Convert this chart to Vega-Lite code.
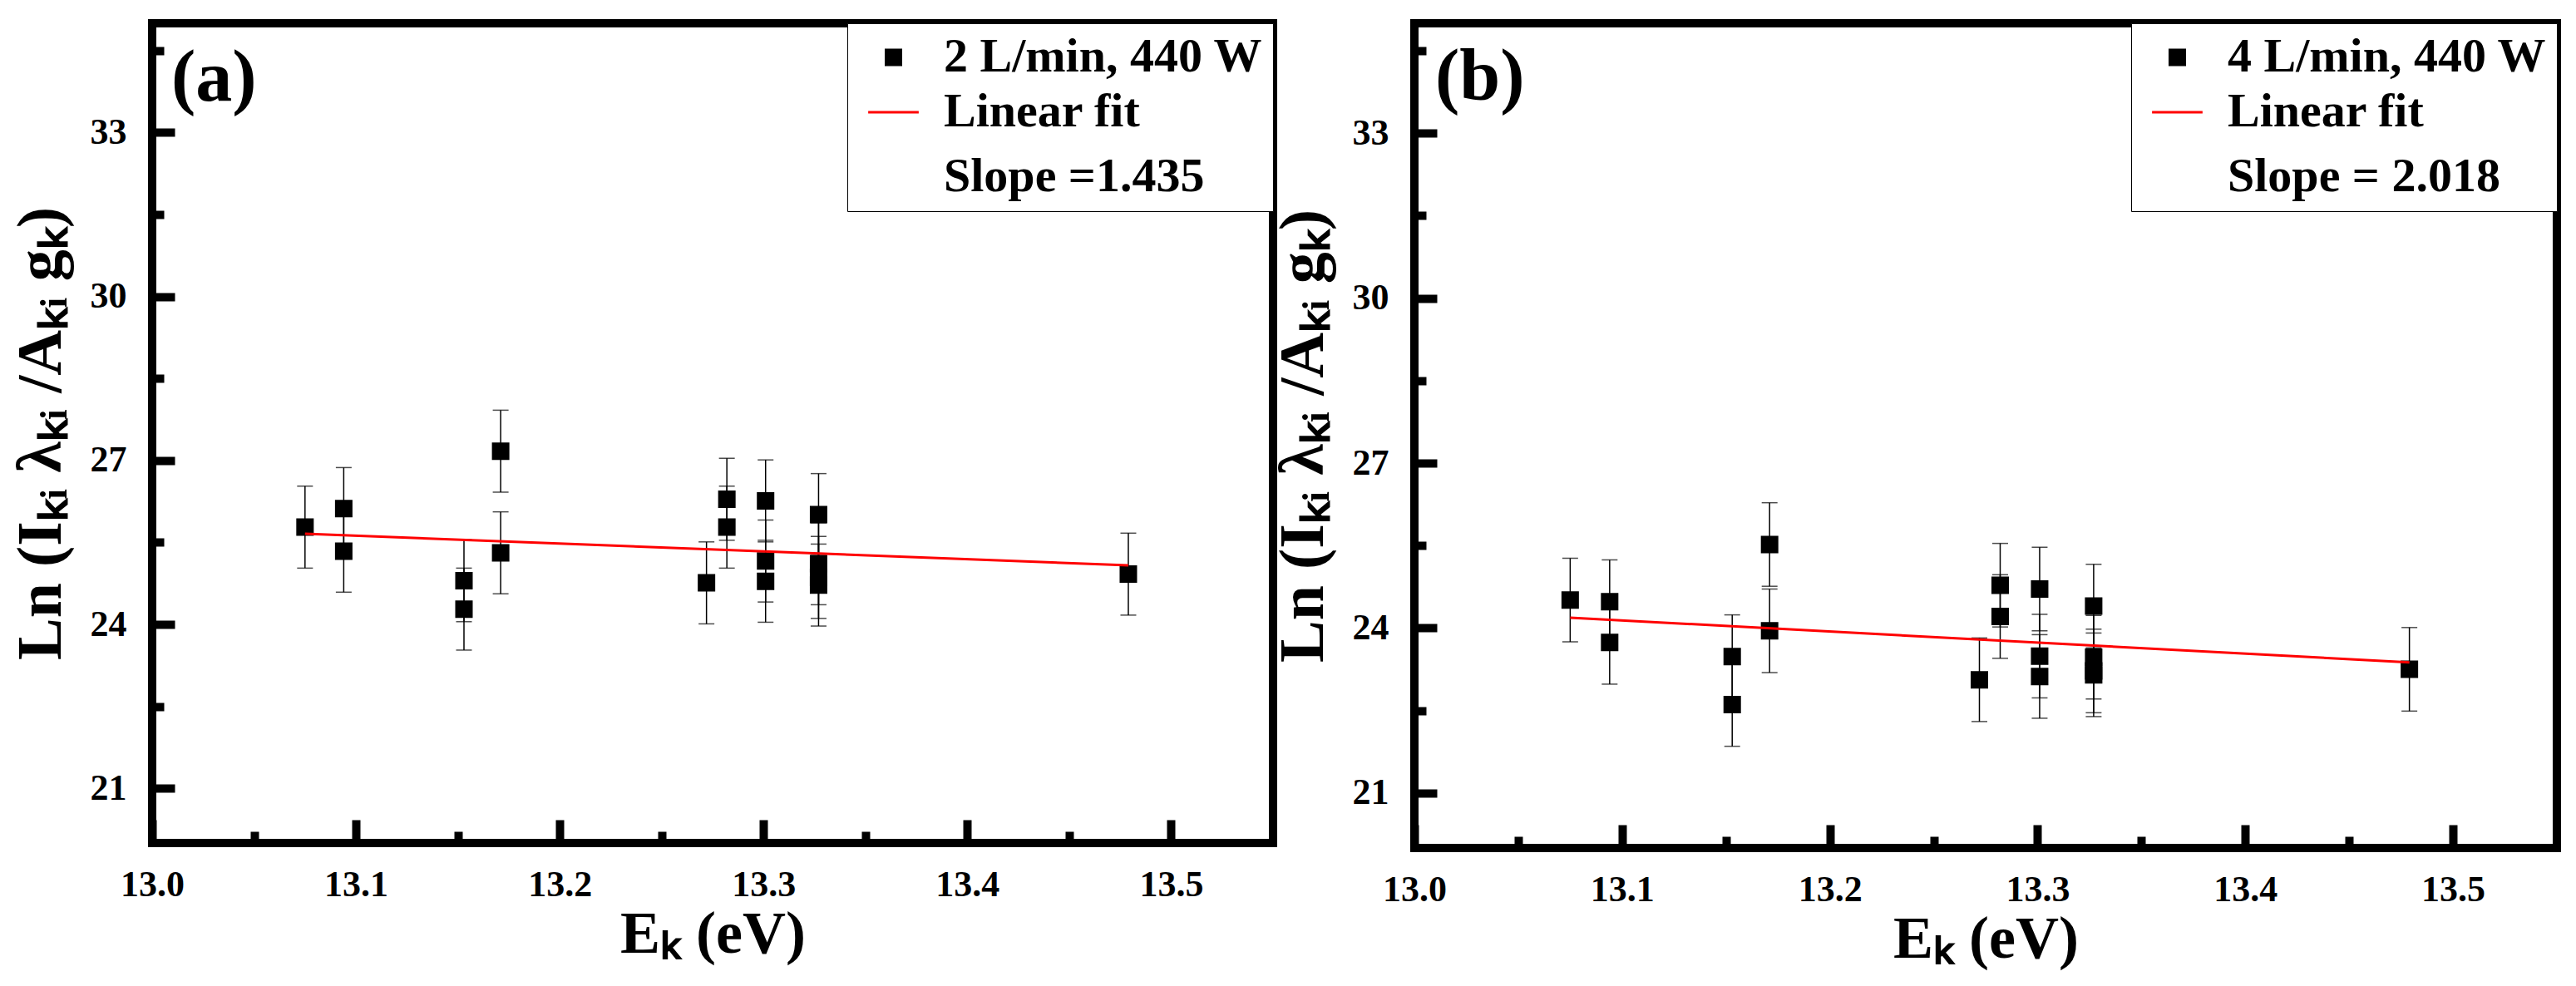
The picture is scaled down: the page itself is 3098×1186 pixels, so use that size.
{
  "$schema": "https://vega.github.io/schema/vega-lite/v6.json",
  "background": "white",
  "padding": {"left": 6, "top": 22, "right": 0, "bottom": 0},
  "spacing": -13,
  "datasets": {
    "pointsA": [
      {"E": 13.075, "ln": 25.78, "err": 0.75, "series": "2 L/min, 440 W"},
      {"E": 13.094, "ln": 26.12, "err": 0.75, "series": "2 L/min, 440 W"},
      {"E": 13.094, "ln": 25.34, "err": 0.75, "series": "2 L/min, 440 W"},
      {"E": 13.153, "ln": 24.80, "err": 0.75, "series": "2 L/min, 440 W"},
      {"E": 13.153, "ln": 24.28, "err": 0.75, "series": "2 L/min, 440 W"},
      {"E": 13.171, "ln": 27.17, "err": 0.75, "series": "2 L/min, 440 W"},
      {"E": 13.171, "ln": 25.31, "err": 0.75, "series": "2 L/min, 440 W"},
      {"E": 13.272, "ln": 24.76, "err": 0.75, "series": "2 L/min, 440 W"},
      {"E": 13.282, "ln": 26.29, "err": 0.75, "series": "2 L/min, 440 W"},
      {"E": 13.282, "ln": 25.78, "err": 0.75, "series": "2 L/min, 440 W"},
      {"E": 13.301, "ln": 26.26, "err": 0.75, "series": "2 L/min, 440 W"},
      {"E": 13.301, "ln": 25.16, "err": 0.75, "series": "2 L/min, 440 W"},
      {"E": 13.301, "ln": 24.79, "err": 0.75, "series": "2 L/min, 440 W"},
      {"E": 13.327, "ln": 26.01, "err": 0.75, "series": "2 L/min, 440 W"},
      {"E": 13.327, "ln": 25.11, "err": 0.75, "series": "2 L/min, 440 W"},
      {"E": 13.327, "ln": 24.86, "err": 0.75, "series": "2 L/min, 440 W"},
      {"E": 13.327, "ln": 24.72, "err": 0.75, "series": "2 L/min, 440 W"},
      {"E": 13.479, "ln": 24.92, "err": 0.75, "series": "2 L/min, 440 W"}
    ],
    "fitA": [
      {"E": 13.075, "ln": 25.66},
      {"E": 13.479, "ln": 25.08}
    ],
    "pointsB": [
      {"E": 13.075, "ln": 24.51, "err": 0.76, "series": "4 L/min, 440 W"},
      {"E": 13.094, "ln": 24.48, "err": 0.76, "series": "4 L/min, 440 W"},
      {"E": 13.094, "ln": 23.74, "err": 0.76, "series": "4 L/min, 440 W"},
      {"E": 13.153, "ln": 23.48, "err": 0.76, "series": "4 L/min, 440 W"},
      {"E": 13.153, "ln": 22.61, "err": 0.76, "series": "4 L/min, 440 W"},
      {"E": 13.171, "ln": 25.52, "err": 0.76, "series": "4 L/min, 440 W"},
      {"E": 13.171, "ln": 23.95, "err": 0.76, "series": "4 L/min, 440 W"},
      {"E": 13.272, "ln": 23.06, "err": 0.76, "series": "4 L/min, 440 W"},
      {"E": 13.282, "ln": 24.78, "err": 0.76, "series": "4 L/min, 440 W"},
      {"E": 13.282, "ln": 24.21, "err": 0.76, "series": "4 L/min, 440 W"},
      {"E": 13.301, "ln": 24.71, "err": 0.76, "series": "4 L/min, 440 W"},
      {"E": 13.301, "ln": 23.49, "err": 0.76, "series": "4 L/min, 440 W"},
      {"E": 13.301, "ln": 23.12, "err": 0.76, "series": "4 L/min, 440 W"},
      {"E": 13.327, "ln": 24.40, "err": 0.76, "series": "4 L/min, 440 W"},
      {"E": 13.327, "ln": 23.47, "err": 0.76, "series": "4 L/min, 440 W"},
      {"E": 13.327, "ln": 23.22, "err": 0.76, "series": "4 L/min, 440 W"},
      {"E": 13.327, "ln": 23.15, "err": 0.76, "series": "4 L/min, 440 W"},
      {"E": 13.479, "ln": 23.25, "err": 0.76, "series": "4 L/min, 440 W"}
    ],
    "fitB": [
      {"E": 13.075, "ln": 24.19},
      {"E": 13.479, "ln": 23.375}
    ],
    "panelLabels": [
      {"panel": "a", "label": "(a)"},
      {"panel": "b", "label": "(b)"}
    ]
  },
  "hconcat": [
    {
      "width": 1348,
      "height": 986,
      "layer": [
        {
          "data": {"name": "pointsA"},
          "mark": {"type": "errorbar", "color": "black", "ticks": {"size": 19, "thickness": 1.5, "color": "black"}, "rule": {"strokeWidth": 1.5, "color": "black"}},
          "encoding": {
            "x": {
              "field": "E", "type": "quantitative",
              "scale": {"domain": [13.0, 13.55], "nice": false, "zero": false},
              "axis": {
                "title": "Eₖ (eV)",
                "values": [13.0, 13.05, 13.1, 13.15, 13.2, 13.25, 13.3, 13.35, 13.4, 13.45, 13.5],
                "labelExpr": "round(datum.value * 100) % 10 == 0 ? format(datum.value, '.1f') : ''",
                "tickSize": {"condition": {"test": "round(datum.value * 100) % 10 == 0", "value": -28}, "value": -14},
                "labelPadding": 56,
                "titlePadding": -12,
                "titleFontSize": 72
              }
            },
            "y": {
              "field": "ln", "type": "quantitative",
              "scale": {"domain": [20, 35], "nice": false, "zero": false},
              "axis": {
                "title": "Ln (Iₖᵢ λₖᵢ /Aₖᵢ gₖ)",
                "values": [21, 22.5, 24, 25.5, 27, 28.5, 30, 31.5, 33, 34.5],
                "labelExpr": "datum.value % 3 == 0 ? format(datum.value, 'd') : ''",
                "tickSize": {"condition": {"test": "datum.value % 3 == 0", "value": -27}, "value": -14},
                "labelPadding": 58,
                "titlePadding": 20,
                "titleFontSize": 76
              }
            },
            "yError": {"field": "err"}
          }
        },
        {
          "data": {"name": "pointsA"},
          "mark": {"type": "point", "filled": false, "fill": "black", "opacity": 1, "fillOpacity": 1, "strokeWidth": 3},
          "encoding": {
            "x": {"field": "E", "type": "quantitative", "scale": {"domain": [13.0, 13.55], "nice": false, "zero": false}},
            "y": {"field": "ln", "type": "quantitative", "scale": {"domain": [20, 35], "nice": false, "zero": false}},
            "color": {
              "field": "series", "type": "nominal",
              "scale": {"domain": ["2 L/min, 440 W", "Linear fit", "Slope =1.435"], "range": ["black", "#ff0000", "white"]},
              "legend": {
                "title": null, "orient": "top-right", "offset": 0, "padding": 12, "rowPadding": 5,
                "strokeColor": "black", "fillColor": "white",
                "symbolStrokeWidth": 3, "labelOffset": 17, "labelLimit": 700,
                "labelFont": "Liberation Serif", "labelFontWeight": "bold", "labelFontSize": 58, "labelColor": "black",
                "labelExpr": "indexof(datum.value, 'Slope') == 0 ? '\u00a0' + datum.label : datum.label"
              }
            },
            "shape": {
              "field": "series", "type": "nominal",
              "scale": {"domain": ["2 L/min, 440 W", "Linear fit", "Slope =1.435"], "range": ["square", "stroke", "stroke"]}
            },
            "size": {
              "field": "series", "type": "nominal",
              "scale": {"domain": ["2 L/min, 440 W", "Linear fit", "Slope =1.435"], "range": [324, 7056, 7056]}
            }
          }
        },
        {
          "data": {"name": "fitA"},
          "mark": {"type": "line", "strokeWidth": 3, "color": "#ff0000"},
          "encoding": {
            "x": {"field": "E", "type": "quantitative", "scale": {"domain": [13.0, 13.55], "nice": false, "zero": false}},
            "y": {"field": "ln", "type": "quantitative", "scale": {"domain": [20, 35], "nice": false, "zero": false}}
          }
        },
        {
          "data": {"name": "panelLabels"},
          "transform": [{"filter": "datum.panel == 'a'"}],
          "mark": {"type": "text", "align": "left", "baseline": "alphabetic", "dx": 23, "dy": 93, "font": "Liberation Serif", "fontWeight": "bold", "fontSize": 88, "color": "black"},
          "encoding": {
            "x": {"datum": 13.0, "type": "quantitative", "scale": {"domain": [13.0, 13.55], "nice": false, "zero": false}},
            "y": {"datum": 35, "type": "quantitative", "scale": {"domain": [20, 35], "nice": false, "zero": false}},
            "text": {"field": "label", "type": "nominal"}
          }
        }
      ]
    },
    {
      "width": 1374,
      "height": 992,
      "layer": [
        {
          "data": {"name": "pointsB"},
          "mark": {"type": "errorbar", "color": "black", "ticks": {"size": 19, "thickness": 1.5, "color": "black"}, "rule": {"strokeWidth": 1.5, "color": "black"}},
          "encoding": {
            "x": {
              "field": "E", "type": "quantitative",
              "scale": {"domain": [13.0, 13.55], "nice": false, "zero": false},
              "axis": {
                "title": "Eₖ (eV)",
                "values": [13.0, 13.05, 13.1, 13.15, 13.2, 13.25, 13.3, 13.35, 13.4, 13.45, 13.5],
                "labelExpr": "round(datum.value * 100) % 10 == 0 ? format(datum.value, '.1f') : ''",
                "tickSize": {"condition": {"test": "round(datum.value * 100) % 10 == 0", "value": -28}, "value": -14},
                "labelPadding": 56,
                "titlePadding": -12,
                "titleFontSize": 72
              }
            },
            "y": {
              "field": "ln", "type": "quantitative",
              "scale": {"domain": [20, 35], "nice": false, "zero": false},
              "axis": {
                "title": "Ln (Iₖᵢ λₖᵢ /Aₖᵢ gₖ)",
                "values": [21, 22.5, 24, 25.5, 27, 28.5, 30, 31.5, 33, 34.5],
                "labelExpr": "datum.value % 3 == 0 ? format(datum.value, 'd') : ''",
                "tickSize": {"condition": {"test": "datum.value % 3 == 0", "value": -27}, "value": -14},
                "labelPadding": 58,
                "titlePadding": 20,
                "titleFontSize": 76
              }
            },
            "yError": {"field": "err"}
          }
        },
        {
          "data": {"name": "pointsB"},
          "mark": {"type": "point", "filled": false, "fill": "black", "opacity": 1, "fillOpacity": 1, "strokeWidth": 3},
          "encoding": {
            "x": {"field": "E", "type": "quantitative", "scale": {"domain": [13.0, 13.55], "nice": false, "zero": false}},
            "y": {"field": "ln", "type": "quantitative", "scale": {"domain": [20, 35], "nice": false, "zero": false}},
            "color": {
              "field": "series", "type": "nominal",
              "scale": {"domain": ["4 L/min, 440 W", "Linear fit", "Slope = 2.018"], "range": ["black", "#ff0000", "white"]},
              "legend": {
                "title": null, "orient": "top-right", "offset": 0, "padding": 12, "rowPadding": 5,
                "strokeColor": "black", "fillColor": "white",
                "symbolStrokeWidth": 3, "labelOffset": 17, "labelLimit": 700,
                "labelFont": "Liberation Serif", "labelFontWeight": "bold", "labelFontSize": 58, "labelColor": "black",
                "labelExpr": "indexof(datum.value, 'Slope') == 0 ? '\u00a0' + datum.label : datum.label"
              }
            },
            "shape": {
              "field": "series", "type": "nominal",
              "scale": {"domain": ["4 L/min, 440 W", "Linear fit", "Slope = 2.018"], "range": ["square", "stroke", "stroke"]}
            },
            "size": {
              "field": "series", "type": "nominal",
              "scale": {"domain": ["4 L/min, 440 W", "Linear fit", "Slope = 2.018"], "range": [324, 7056, 7056]}
            }
          }
        },
        {
          "data": {"name": "fitB"},
          "mark": {"type": "line", "strokeWidth": 3, "color": "#ff0000"},
          "encoding": {
            "x": {"field": "E", "type": "quantitative", "scale": {"domain": [13.0, 13.55], "nice": false, "zero": false}},
            "y": {"field": "ln", "type": "quantitative", "scale": {"domain": [20, 35], "nice": false, "zero": false}}
          }
        },
        {
          "data": {"name": "panelLabels"},
          "transform": [{"filter": "datum.panel == 'b'"}],
          "mark": {"type": "text", "align": "left", "baseline": "alphabetic", "dx": 25, "dy": 92, "font": "Liberation Serif", "fontWeight": "bold", "fontSize": 88, "color": "black"},
          "encoding": {
            "x": {"datum": 13.0, "type": "quantitative", "scale": {"domain": [13.0, 13.55], "nice": false, "zero": false}},
            "y": {"datum": 35, "type": "quantitative", "scale": {"domain": [20, 35], "nice": false, "zero": false}},
            "text": {"field": "label", "type": "nominal"}
          }
        }
      ]
    }
  ],
  "resolve": {
    "scale": {"x": "independent", "y": "independent", "color": "independent", "shape": "independent", "size": "independent"},
    "legend": {"color": "independent", "shape": "independent", "size": "independent"}
  },
  "config": {
    "font": "Liberation Serif",
    "view": {"stroke": "black", "strokeWidth": 10},
    "axis": {
      "domain": false,
      "grid": false,
      "tickColor": "black",
      "tickWidth": 10,
      "labelFlush": false,
      "labelOverlap": false,
      "labelFont": "Liberation Serif",
      "labelFontWeight": "bold",
      "labelFontSize": 44,
      "labelColor": "black",
      "titleFont": "Liberation Serif",
      "titleFontWeight": "bold",
      "titleColor": "black"
    }
  }
}
